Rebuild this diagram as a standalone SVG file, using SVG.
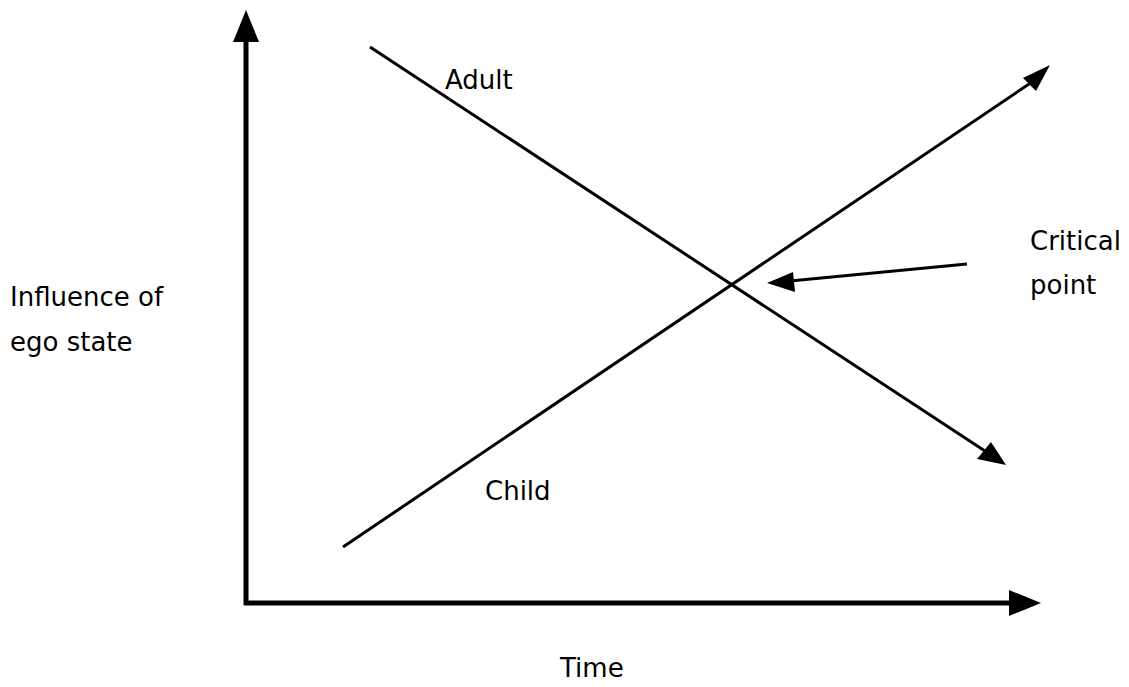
<svg xmlns="http://www.w3.org/2000/svg" width="1129" height="687" viewBox="0 0 1129 687">
<style>
.lbl{font-family:"DejaVu Sans","Liberation Sans",sans-serif;font-size:26px;fill:#000}
.ax{stroke:#000;stroke-width:5;fill:none}
.ln{stroke:#000;stroke-width:3;fill:none}
.hd{fill:#000;stroke:none}
</style>
<rect width="1129" height="687" fill="#fff"/>
<g id="connectors">
<g id="y-axis"><line class="ax" x1="246" y1="605" x2="246" y2="38"/><polygon class="hd" points="246,10 233,42 259,42"/></g>
<g id="x-axis"><line class="ax" x1="244" y1="603" x2="1012" y2="603"/><polygon class="hd" points="1041,603 1009,590 1009,616"/></g>
<g id="adult-line"><line class="ln" x1="370" y1="47" x2="988" y2="453"/><polygon class="hd" points="1006,465 991,442 977,459"/></g>
<g id="child-line"><line class="ln" x1="343" y1="547" x2="1032" y2="82"/><polygon class="hd" points="1050,65 1023,78 1036,91"/></g>
<g id="critical-arrow"><line class="ln" x1="967" y1="264" x2="790" y2="281"/><polygon class="hd" points="767,283 793,272 795,292"/></g>
</g>
<g id="label-adult"><text class="lbl" x="445" y="89">Adult</text></g>
<g id="label-child"><text class="lbl" x="485" y="500">Child</text></g>
<g id="label-critical"><text class="lbl" x="1030" y="250">Critical</text><text class="lbl" x="1030" y="294">point</text></g>
<g id="label-influence"><text class="lbl" x="10" y="306">Influence of</text><text class="lbl" x="10" y="351">ego state</text></g>
<g id="label-time"><text class="lbl" x="560" y="677">Time</text></g>
</svg>
